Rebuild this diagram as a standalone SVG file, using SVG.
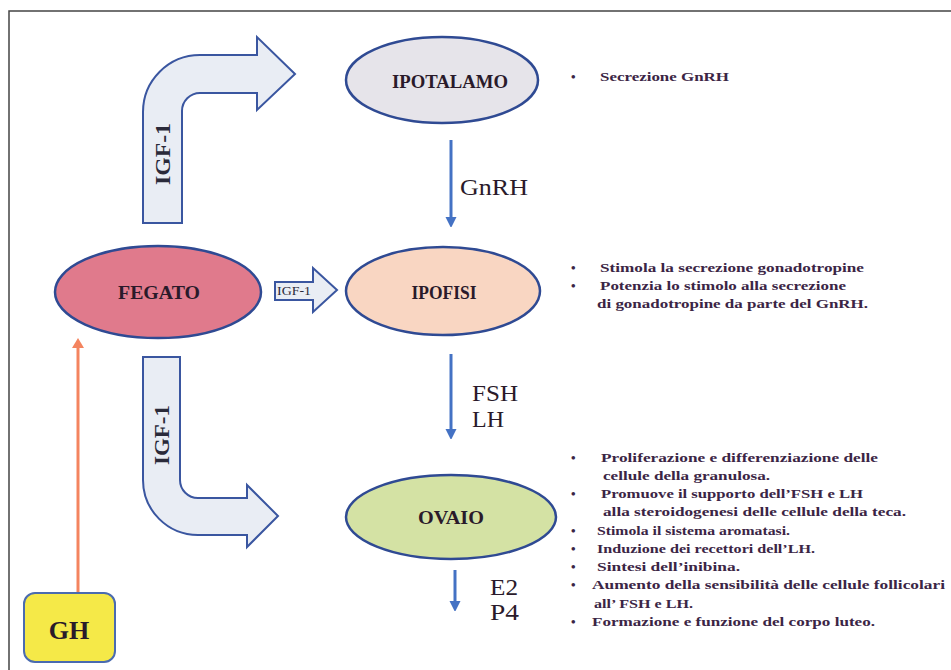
<svg xmlns="http://www.w3.org/2000/svg" width="951" height="670" viewBox="0 0 951 670">
<defs>
<marker id="blueHead" markerWidth="10" markerHeight="12" refX="5" refY="6" orient="auto" markerUnits="userSpaceOnUse">
<path d="M0,0.5 L11,6 L0,11.5 Z" fill="#4472c4"/>
</marker>
<marker id="orangeHead" markerWidth="10" markerHeight="12" refX="5" refY="6" orient="auto" markerUnits="userSpaceOnUse">
<path d="M0,0 L10,6 L0,12 Z" fill="#f4845f"/>
</marker>
</defs>
<style>
.node{stroke:#2f4a93;stroke-width:2.5}
.lbl{font-family:"Liberation Serif","Times New Roman",serif;font-weight:bold;fill:#2a1a2a;text-anchor:middle}
.bent{fill:#e9edf4;stroke:#3a56a0;stroke-width:2}
.igf{font-family:"Liberation Serif","Times New Roman",serif;fill:#2a2a3a;text-anchor:middle}
.hor{font-family:"Liberation Serif","Times New Roman",serif;fill:#2a1a2a;font-size:23px}
.note{font-family:"Liberation Serif","Times New Roman",serif;font-weight:bold;fill:#3b2545;font-size:13px}
.blue{stroke:#4472c4;stroke-width:3;fill:none}
</style>
<rect width="951" height="670" fill="#ffffff"/>
<path d="M9,670 L9,11 L951,11" fill="none" stroke="#444" stroke-width="1.5"/>

<g id="connectors">
<path id="arrow-igf-top" class="bent" d="M143,223 L143,112 A57,57 0 0 1 200,55 L257,55 L257,37 L295,74 L257,110 L257,93 L200,93 A18,18 0 0 0 182,111 L182,223 Z"/>
<text class="igf" font-size="22" font-weight="bold" transform="translate(170,154) rotate(-90)" textLength="62" lengthAdjust="spacingAndGlyphs">IGF-1</text>
<path id="arrow-igf-bottom" class="bent" d="M143,357 L180,357 L180,480 A18,18 0 0 0 198,498 L247,498 L247,485 L278,516 L247,547 L247,535 L198,535 A55,55 0 0 1 143,480 Z"/>
<text class="igf" font-size="22" font-weight="bold" transform="translate(169,435) rotate(-90)" textLength="60" lengthAdjust="spacingAndGlyphs">IGF-1</text>
<path id="arrow-igf-mid" class="bent" d="M275,282 L313,282 L313,268 L337,290 L313,312 L313,300 L275,300 Z"/>
<text class="igf" font-size="12" x="294" y="295" textLength="34" lengthAdjust="spacingAndGlyphs">IGF-1</text>
<line class="blue" x1="451" y1="140" x2="451" y2="222" marker-end="url(#blueHead)"/>
<text class="hor" x="460" y="195" textLength="68" lengthAdjust="spacingAndGlyphs">GnRH</text>
<line class="blue" x1="451" y1="354" x2="451" y2="434" marker-end="url(#blueHead)"/>
<text class="hor" x="472" y="401" textLength="46" lengthAdjust="spacingAndGlyphs">FSH</text>
<text class="hor" x="472" y="427" textLength="32" lengthAdjust="spacingAndGlyphs">LH</text>
<line class="blue" x1="455" y1="570" x2="455" y2="606" marker-end="url(#blueHead)"/>
<text class="hor" x="490" y="595" textLength="28" lengthAdjust="spacingAndGlyphs">E2</text>
<text class="hor" x="490" y="620" textLength="29" lengthAdjust="spacingAndGlyphs">P4</text>
<line x1="78" y1="593" x2="78" y2="343" stroke="#f4845f" stroke-width="3" marker-end="url(#orangeHead)"/>
</g>

<g id="ipotalamo">
<ellipse class="node" cx="442" cy="80" rx="96" ry="43" fill="#e6e4ea"/>
<text class="lbl" x="450" y="88" font-size="18" textLength="116" lengthAdjust="spacingAndGlyphs">IPOTALAMO</text>
</g>
<g id="ipofisi">
<ellipse class="node" cx="443" cy="291" rx="97" ry="44" fill="#f9d6c2"/>
<text class="lbl" x="444" y="299" font-size="19" textLength="65" lengthAdjust="spacingAndGlyphs">IPOFISI</text>
</g>
<g id="fegato">
<ellipse class="node" cx="158" cy="292" rx="103" ry="46" fill="#e07a8c"/>
<text class="lbl" x="159" y="299" font-size="19" textLength="82" lengthAdjust="spacingAndGlyphs">FEGATO</text>
</g>
<g id="ovaio">
<ellipse class="node" cx="451" cy="517" rx="105" ry="42" fill="#d4e2a4"/>
<text class="lbl" x="451" y="524" font-size="19" textLength="66" lengthAdjust="spacingAndGlyphs">OVAIO</text>
</g>
<g id="gh">
<rect x="24" y="593" width="91" height="69" rx="11" fill="#f5e948" stroke="#4a6bb0" stroke-width="2"/>
<text class="lbl" x="69" y="639" font-size="26" fill="#111">GH</text>
</g>

<g id="notes-ipotalamo">
<text class="note" x="571" y="81">•</text>
<text class="note" x="600" y="81" textLength="129" lengthAdjust="spacingAndGlyphs">Secrezione GnRH</text>
</g>
<g id="notes-ipofisi">
<text class="note" x="571" y="272">•</text>
<text class="note" x="600" y="272" textLength="264" lengthAdjust="spacingAndGlyphs">Stimola la secrezione gonadotropine</text>
<text class="note" x="571" y="290">•</text>
<text class="note" x="600" y="290" textLength="246" lengthAdjust="spacingAndGlyphs">Potenzia lo stimolo alla secrezione</text>
<text class="note" x="597" y="308" textLength="271" lengthAdjust="spacingAndGlyphs">di gonadotropine da parte del GnRH.</text>
</g>
<g id="notes-ovaio">
<text class="note" x="571" y="462">•</text>
<text class="note" x="601" y="462" textLength="277" lengthAdjust="spacingAndGlyphs">Proliferazione e differenziazione delle</text>
<text class="note" x="603" y="480" textLength="167" lengthAdjust="spacingAndGlyphs">cellule della granulosa.</text>
<text class="note" x="571" y="498">•</text>
<text class="note" x="601" y="498" textLength="262" lengthAdjust="spacingAndGlyphs">Promuove il supporto dell’FSH e LH</text>
<text class="note" x="603" y="516" textLength="303" lengthAdjust="spacingAndGlyphs">alla steroidogenesi delle cellule della teca.</text>
<text class="note" x="571" y="535">•</text>
<text class="note" x="597" y="535" textLength="193" lengthAdjust="spacingAndGlyphs">Stimola il sistema aromatasi.</text>
<text class="note" x="571" y="553">•</text>
<text class="note" x="597" y="553" textLength="218" lengthAdjust="spacingAndGlyphs">Induzione dei recettori dell’LH.</text>
<text class="note" x="571" y="571">•</text>
<text class="note" x="597" y="571" textLength="143" lengthAdjust="spacingAndGlyphs">Sintesi dell’inibina.</text>
<text class="note" x="571" y="589">•</text>
<text class="note" x="592" y="589" textLength="353" lengthAdjust="spacingAndGlyphs">Aumento della sensibilità delle cellule follicolari</text>
<text class="note" x="594" y="608" textLength="99" lengthAdjust="spacingAndGlyphs">all’ FSH e LH.</text>
<text class="note" x="571" y="626">•</text>
<text class="note" x="592" y="626" textLength="283" lengthAdjust="spacingAndGlyphs">Formazione e funzione del corpo luteo.</text>
</g>
</svg>
